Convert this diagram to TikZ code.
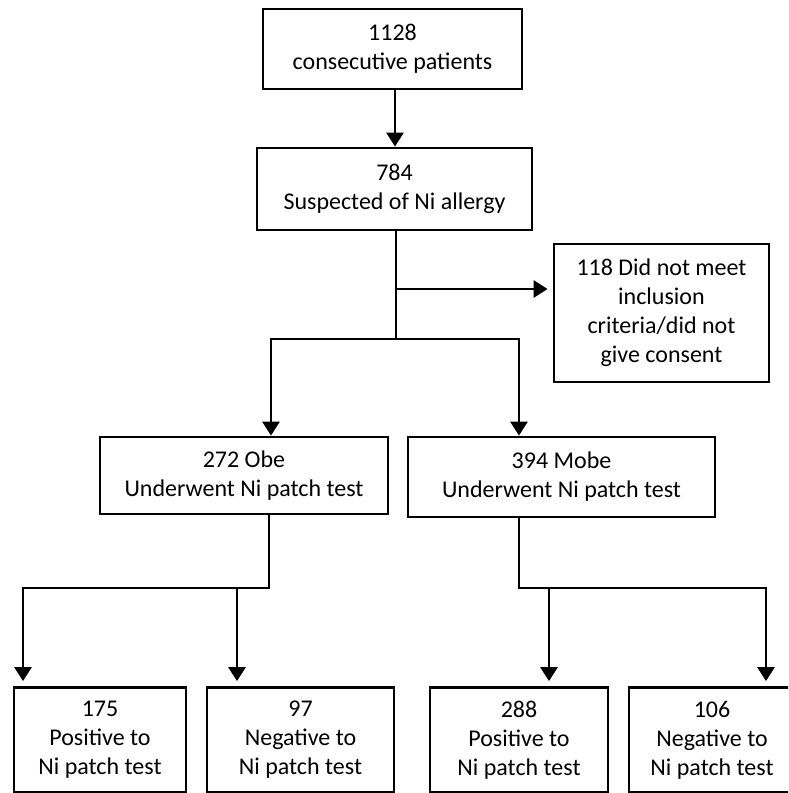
\documentclass[tikz,border=0pt]{standalone}
\usepackage{fontspec}
\setmainfont{Carlito}
\usetikzlibrary{arrows.meta}
\begin{document}
\begin{tikzpicture}[x=1pt,y=-1pt,
  box/.style={draw,line width=2.8pt,align=center,inner sep=0pt,
    font=\fontsize{24}{29}\selectfont},
  conn/.style={line width=2.8pt},
  arr/.style={line width=2.8pt,-{Triangle[length=14pt,width=17pt]}}]
\clip (0,0) rectangle (788,793);
\fill[white] (0,0) rectangle (788,793);
\node[box,minimum width=259pt,minimum height=80pt] (A) at (392.5,49) {1128\\consecutive patients};
\node[box,minimum width=275pt,minimum height=82pt] (B) at (394.5,189) {784\\Suspected of Ni allergy};
\node[box,minimum width=215pt,minimum height=138pt] (C) at (661.5,313) {118 Did not meet\\inclusion\\criteria/did not\\give consent};
\node[box,minimum width=288pt,minimum height=77pt] (D) at (244,475.5) {272 Obe\\Underwent Ni patch test};
\node[box,minimum width=307pt,minimum height=80pt] (E) at (561.5,477) {394 Mobe\\Underwent Ni patch test};
\node[box,minimum width=172pt,minimum height=105pt] (F) at (100,740) {175\\Positive to\\Ni patch test};
\node[box,minimum width=187pt,minimum height=105pt] (G) at (300.5,740) {97\\Negative to\\Ni patch test};
\node[box,minimum width=178pt,minimum height=105pt] (H) at (519,740) {288\\Positive to\\Ni patch test};
\node[box,minimum width=166pt,minimum height=105pt] (I) at (712,740) {106\\Negative to\\Ni patch test};
% junction coordinates
\coordinate (b1) at (396,339);
\coordinate (b2) at (396,289);
\coordinate (bl) at (271,339);
\coordinate (br) at (519,339);
\coordinate (d1) at (269,588);
\coordinate (dl) at (23,588);
\coordinate (dr) at (237,588);
\coordinate (e1) at (519,588);
\coordinate (el) at (549,588);
\coordinate (er) at (766,588);
% connectors
\draw[arr] (A.south -| 395,0) -- (B.north -| 395,0);
\draw[conn] (B.south -| b1) -- (b1);
\draw[arr,shorten >=5pt] (b2) -- (b2 -| C.west);
\draw[conn,line cap=rect] (bl) -- (br);
\draw[arr] (bl) -- (bl |- D.north);
\draw[arr] (br) -- (br |- E.north);
\draw[conn] (D.south -| d1) -- (d1);
\draw[conn,line cap=rect] (dl) -- (d1);
\draw[arr,shorten >=5pt] (dl) -- (dl |- F.north);
\draw[arr,shorten >=5pt] (dr) -- (dr |- G.north);
\draw[conn] (E.south -| e1) -- (e1);
\draw[conn,line cap=rect] (e1) -- (er);
\draw[arr,shorten >=5pt] (el) -- (el |- H.north);
\draw[arr,shorten >=5pt] (er) -- (er |- I.north);
\end{tikzpicture}
\end{document}
